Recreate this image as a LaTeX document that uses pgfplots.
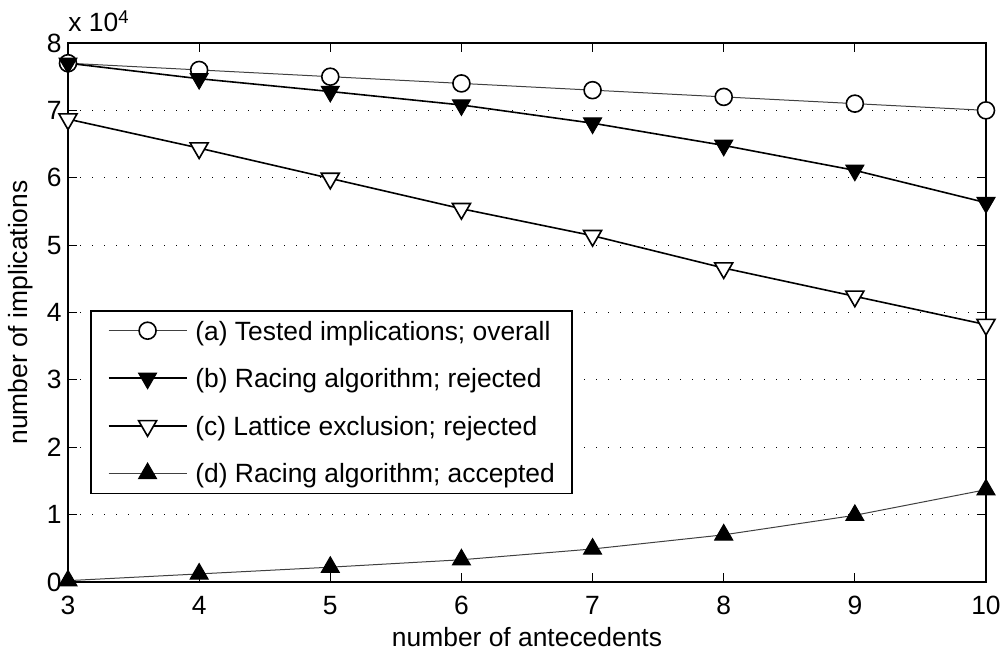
\documentclass[border=0pt]{standalone}
\usepackage{fontspec}
\setmainfont{Liberation Sans}
\usepackage{pgfplots}
\pgfplotsset{compat=1.18}
\begin{document}
\fontsize{13.2}{15.8}\selectfont
\begin{tikzpicture}
\useasboundingbox (0,0) rectangle (502.5pt,325.5pt);
\begin{axis}[
  at={(34pt,34.5pt)}, anchor=south west,
  scale only axis, width=459pt, height=269.5pt,
  clip=false,
  xmin=3, xmax=10, ymin=0, ymax=80000,
  xtick={3,4,5,6,7,8,9,10},
  ytick={0,10000,20000,30000,40000,50000,60000,70000,80000},
  yticklabels={0,1,2,3,4,5,6,7,8},
  scaled y ticks=false,
  /pgf/number format/assume math mode=true,
  tick align=inside, major tick length=4.5pt,
  tick style={black, line width=0.5pt},
  axis line style={black, line width=0.75pt},
  ymajorgrids,
  major grid style={black, line width=0.6pt, dash pattern=on 0.6pt off 5.4pt},
  xticklabel style={anchor=base, inner sep=0pt, yshift=-16.5pt},
  yticklabel style={anchor=east, inner sep=0pt, xshift=-3pt},
  xlabel={number of antecedents},
  ylabel={number of implications},
  xlabel style={at={(rel axis cs:0.5,0)}, anchor=base, inner sep=0pt, yshift=-32.5pt},
  ylabel style={at={(rel axis cs:-0.0512,0.5)}, anchor=center, inner sep=0pt},
  legend style={at={(rel axis cs:0.024,0.163)}, anchor=south west,
    draw=black, line width=0.75pt, fill=white,
    inner xsep=8.5pt, inner ysep=0pt, row sep=3.9pt, column sep=4pt,
    nodes={inner sep=0pt, text height=14.68pt, text depth=5.22pt}},
  legend cell align=left,
  legend image code/.code={
    \draw[mark repeat=2, mark phase=2, #1]
      plot coordinates {(0pt,0pt) (19.5pt,0pt) (39pt,0pt)};
  },
]
% (a) all implications that were tested
\addplot[color=black!75, line width=0.5pt, mark=*, mark size=4.25pt,
  mark options={fill=white, draw=black, line width=0.8pt}]
  coordinates {(3,77000) (4,76000) (5,75000) (6,74000) (7,73000) (8,72000) (9,71000) (10,70000)};
\addlegendentry{(a) Tested implications; overall}
% (b) rejected by the racing algorithm
\addplot[color=black, line width=0.8pt, mark=triangle*, mark size=5.2pt,
  mark options={rotate=180, fill=black, draw=black, line width=0.5pt}]
  coordinates {(3,77000) (4,74700) (5,72800) (6,70800) (7,68100) (8,64800) (9,61100) (10,56300)};
\addlegendentry{(b) Racing algorithm; rejected}
% (c) rejected by lattice exclusion
\addplot[color=black, line width=0.8pt, mark=triangle*, mark size=5.2pt,
  mark options={rotate=180, fill=white, draw=black, line width=0.8pt}]
  coordinates {(3,68700) (4,64400) (5,59900) (6,55400) (7,51400) (8,46600) (9,42400) (10,38200)};
\addlegendentry{(c) Lattice exclusion; rejected}
% (d) accepted by the racing algorithm
\addplot[color=black!75, line width=0.5pt, mark=triangle*, mark size=5.2pt,
  mark options={fill=black, draw=black, line width=0.5pt}]
  coordinates {(3,200) (4,1200) (5,2200) (6,3300) (7,4900) (8,7000) (9,9900) (10,13700)};
\addlegendentry{(d) Racing algorithm; accepted}
\node[anchor=base west, inner sep=0pt, yshift=5.5pt] at (rel axis cs:0,1)
  {x 10\textsuperscript{4}};
\end{axis}
\end{tikzpicture}
\end{document}
